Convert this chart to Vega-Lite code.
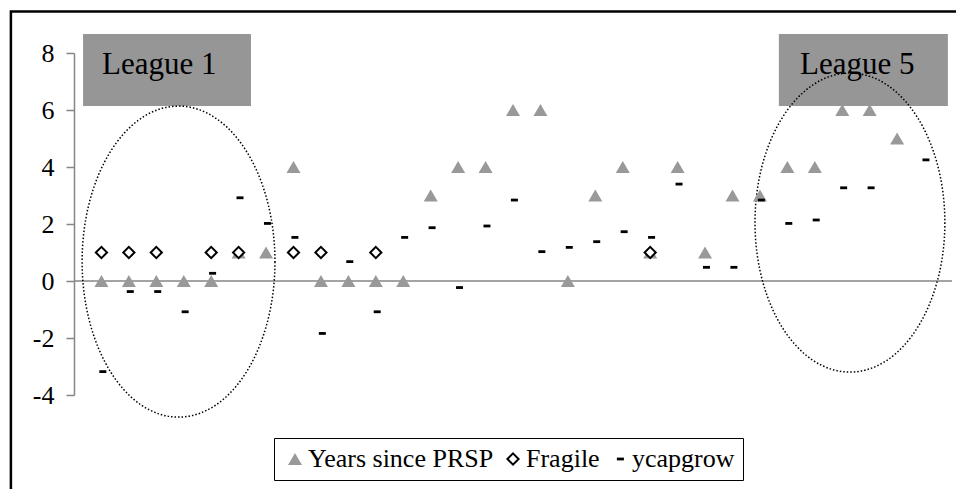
{
  "$schema": "https://vega.github.io/schema/vega-lite/v6.json",
  "width": 878,
  "height": 342,
  "autosize": {"type": "none"},
  "padding": {"left": 74, "top": 53, "right": 4, "bottom": 94},
  "background": "white",
  "config": {"view": {"stroke": null}, "font": "Liberation Serif"},
  "layer": [
    {
      "data": {"values": [{"x": -2.3, "x2": 34, "y": 9.46, "y2": -10}]},
      "mark": {"type": "rect", "fill": "transparent", "stroke": "black", "strokeWidth": 2.5},
      "encoding": {
        "x": {"field": "x", "type": "quantitative", "scale": {"domain": [0, 32], "nice": false, "zero": false}, "axis": null},
        "x2": {"field": "x2"},
        "y": {"field": "y", "type": "quantitative", "scale": {"domain": [-4, 8], "nice": false, "zero": false},
          "axis": {"values": [-4, -2, 0, 2, 4, 6, 8], "grid": false, "title": null, "domainColor": "#868686", "domainWidth": 1.5, "tickColor": "#868686", "tickWidth": 1.5, "tickSize": 8, "labelPadding": 12, "labelFontSize": 26, "labelFont": "Liberation Serif", "labelColor": "black", "labelExpr": "'' + datum.value"}},
        "y2": {"field": "y2"}
      }
    },
    {
      "data": {"values": [{"y": 0}]},
      "mark": {"type": "rule", "color": "#868686", "strokeWidth": 1.5},
      "encoding": {
        "y": {"field": "y", "type": "quantitative", "scale": {"domain": [-4, 8], "nice": false, "zero": false}}
      }
    },
    {
      "data": {"values": [
        {"x": 0.33, "x2": 6.45, "y": 8.67, "y2": 6.14},
        {"x": 25.69, "x2": 31.85, "y": 8.67, "y2": 6.14}
      ]},
      "mark": {"type": "rect", "fill": "#969696"},
      "encoding": {
        "x": {"field": "x", "type": "quantitative", "scale": {"domain": [0, 32], "nice": false, "zero": false}},
        "x2": {"field": "x2"},
        "y": {"field": "y", "type": "quantitative", "scale": {"domain": [-4, 8], "nice": false, "zero": false}},
        "y2": {"field": "y2"}
      }
    },
    {
      "data": {"values": [
        {"x": 1.02, "y": 7.26, "t": "League 1"},
        {"x": 26.46, "y": 7.26, "t": "League 5"}
      ]},
      "mark": {"type": "text", "align": "left", "baseline": "alphabetic", "fontSize": 31, "font": "Liberation Serif", "color": "black"},
      "encoding": {
        "x": {"field": "x", "type": "quantitative", "scale": {"domain": [0, 32], "nice": false, "zero": false}},
        "y": {"field": "y", "type": "quantitative", "scale": {"domain": [-4, 8], "nice": false, "zero": false}},
        "text": {"field": "t"}
      }
    },
    {
      "data": {"values": [{"x": 3.81, "y": 0.68}]},
      "mark": {"type": "point", "shape": "M0.62,0C0.62,0.552,0.342,1,0,1C-0.342,1,-0.62,0.552,-0.62,0C-0.62,-0.552,-0.342,-1,0,-1C0.342,-1,0.62,-0.552,0.62,0Z", "size": 96721, "filled": false, "stroke": "black", "strokeWidth": 1.5, "strokeDash": [1.5, 2], "opacity": 1},
      "encoding": {
        "x": {"field": "x", "type": "quantitative", "scale": {"domain": [0, 32], "nice": false, "zero": false}},
        "y": {"field": "y", "type": "quantitative", "scale": {"domain": [-4, 8], "nice": false, "zero": false}}
      }
    },
    {
      "data": {"values": [{"x": 28.28, "y": 2.05}]},
      "mark": {"type": "point", "shape": "M0.635,0C0.635,0.552,0.351,1,0,1C-0.351,1,-0.635,0.552,-0.635,0C-0.635,-0.552,-0.351,-1,0,-1C0.351,-1,0.635,-0.552,0.635,0Z", "size": 89401, "filled": false, "stroke": "black", "strokeWidth": 1.5, "strokeDash": [1.5, 2], "opacity": 1},
      "encoding": {
        "x": {"field": "x", "type": "quantitative", "scale": {"domain": [0, 32], "nice": false, "zero": false}},
        "y": {"field": "y", "type": "quantitative", "scale": {"domain": [-4, 8], "nice": false, "zero": false}}
      }
    },
    {
      "data": {"values": [
        {"x": 1, "s": "Years since PRSP", "v": 0},
        {"x": 2, "s": "Years since PRSP", "v": 0},
        {"x": 3, "s": "Years since PRSP", "v": 0},
        {"x": 4, "s": "Years since PRSP", "v": 0},
        {"x": 5, "s": "Years since PRSP", "v": 0},
        {"x": 6, "s": "Years since PRSP", "v": 1},
        {"x": 7, "s": "Years since PRSP", "v": 1},
        {"x": 8, "s": "Years since PRSP", "v": 4},
        {"x": 9, "s": "Years since PRSP", "v": 0},
        {"x": 10, "s": "Years since PRSP", "v": 0},
        {"x": 11, "s": "Years since PRSP", "v": 0},
        {"x": 12, "s": "Years since PRSP", "v": 0},
        {"x": 13, "s": "Years since PRSP", "v": 3},
        {"x": 14, "s": "Years since PRSP", "v": 4},
        {"x": 15, "s": "Years since PRSP", "v": 4},
        {"x": 16, "s": "Years since PRSP", "v": 6},
        {"x": 17, "s": "Years since PRSP", "v": 6},
        {"x": 18, "s": "Years since PRSP", "v": 0},
        {"x": 19, "s": "Years since PRSP", "v": 3},
        {"x": 20, "s": "Years since PRSP", "v": 4},
        {"x": 21, "s": "Years since PRSP", "v": 1},
        {"x": 22, "s": "Years since PRSP", "v": 4},
        {"x": 23, "s": "Years since PRSP", "v": 1},
        {"x": 24, "s": "Years since PRSP", "v": 3},
        {"x": 25, "s": "Years since PRSP", "v": 3},
        {"x": 26, "s": "Years since PRSP", "v": 4},
        {"x": 27, "s": "Years since PRSP", "v": 4},
        {"x": 28, "s": "Years since PRSP", "v": 6},
        {"x": 29, "s": "Years since PRSP", "v": 6},
        {"x": 30, "s": "Years since PRSP", "v": 5},
        {"x": 1, "s": "Fragile", "v": 1},
        {"x": 2, "s": "Fragile", "v": 1},
        {"x": 3, "s": "Fragile", "v": 1},
        {"x": 5, "s": "Fragile", "v": 1},
        {"x": 6, "s": "Fragile", "v": 1},
        {"x": 8, "s": "Fragile", "v": 1},
        {"x": 9, "s": "Fragile", "v": 1},
        {"x": 11, "s": "Fragile", "v": 1},
        {"x": 21, "s": "Fragile", "v": 1},
        {"x": 1, "s": "ycapgrow", "v": -3.18},
        {"x": 2, "s": "ycapgrow", "v": -0.37},
        {"x": 3, "s": "ycapgrow", "v": -0.37},
        {"x": 4, "s": "ycapgrow", "v": -1.08},
        {"x": 5, "s": "ycapgrow", "v": 0.27},
        {"x": 6, "s": "ycapgrow", "v": 2.92},
        {"x": 7, "s": "ycapgrow", "v": 2.02},
        {"x": 8, "s": "ycapgrow", "v": 1.53},
        {"x": 9, "s": "ycapgrow", "v": -1.84},
        {"x": 10, "s": "ycapgrow", "v": 0.68},
        {"x": 11, "s": "ycapgrow", "v": -1.08},
        {"x": 12, "s": "ycapgrow", "v": 1.53},
        {"x": 13, "s": "ycapgrow", "v": 1.87},
        {"x": 14, "s": "ycapgrow", "v": -0.23},
        {"x": 15, "s": "ycapgrow", "v": 1.93},
        {"x": 16, "s": "ycapgrow", "v": 2.84},
        {"x": 17, "s": "ycapgrow", "v": 1.03},
        {"x": 18, "s": "ycapgrow", "v": 1.18},
        {"x": 19, "s": "ycapgrow", "v": 1.38},
        {"x": 20, "s": "ycapgrow", "v": 1.73},
        {"x": 21, "s": "ycapgrow", "v": 1.53},
        {"x": 22, "s": "ycapgrow", "v": 3.4},
        {"x": 23, "s": "ycapgrow", "v": 0.48},
        {"x": 24, "s": "ycapgrow", "v": 0.48},
        {"x": 25, "s": "ycapgrow", "v": 2.84},
        {"x": 26, "s": "ycapgrow", "v": 2.02},
        {"x": 27, "s": "ycapgrow", "v": 2.14},
        {"x": 28, "s": "ycapgrow", "v": 3.27},
        {"x": 29, "s": "ycapgrow", "v": 3.27},
        {"x": 31, "s": "ycapgrow", "v": 4.25}
      ]},
      "mark": {"type": "point", "size": 196, "strokeWidth": 2, "opacity": 1, "filled": true},
      "encoding": {
        "x": {"field": "x", "type": "quantitative", "scale": {"domain": [0, 32], "nice": false, "zero": false}},
        "y": {"field": "v", "type": "quantitative", "scale": {"domain": [-4, 8], "nice": false, "zero": false}},
        "shape": {"field": "s", "type": "nominal",
          "scale": {"domain": ["Years since PRSP", "Fragile", "ycapgrow"], "range": ["triangle-up", "M0,-0.8L0.8,0L0,0.8L-0.8,0Z", "M-0.3,-0.2L0.7,-0.2L0.7,0.2L-0.3,0.2Z"]},
          "legend": {"orient": "none", "legendX": 200, "legendY": 385, "direction": "horizontal", "columns": 3, "title": null, "labelFontSize": 26, "labelFont": "Liberation Serif", "labelColor": "black", "labelLimit": 400, "strokeColor": "black", "padding": 8, "labelOffset": 0, "columnPadding": 6, "symbolStrokeWidth": 2, "symbolSize": 196}},
        "fill": {"field": "s", "type": "nominal", "scale": {"domain": ["Years since PRSP", "Fragile", "ycapgrow"], "range": ["#999999", "white", "black"]}},
        "stroke": {"field": "s", "type": "nominal", "scale": {"domain": ["Years since PRSP", "Fragile", "ycapgrow"], "range": ["transparent", "black", "transparent"]}}
      }
    }
  ]
}
